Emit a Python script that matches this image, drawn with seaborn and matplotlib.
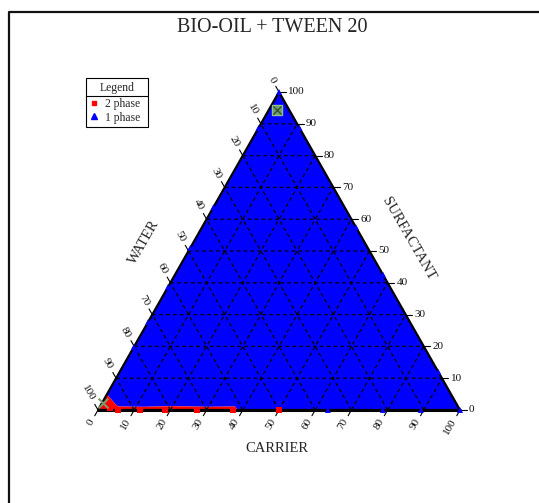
import numpy as np
import pandas as pd
import seaborn as sns
import matplotlib.pyplot as plt
from matplotlib.lines import Line2D

sns.set_theme(style="white")
plt.rcParams['font.family'] = ['Liberation Serif', 'DejaVu Serif']

# composiciones en % (carrier, surfactant); water = 100 - carrier - surfactant
# frontera entre la zona de 2 fases y la de 1 fase
bnd_c = [0.0, 0.6, 2.3, 3.8, 5.0, 12.0, 20.0, 30.0, 37.3, 38.7]
bnd_s = [5.3, 4.4, 3.1, 1.9, 1.1, 1.0, 1.2, 1.0, 1.1, 0.0]

# puntos medidos
two_c = [5.5, 11.6, 18.5, 27.3, 37.3, 50.0, 1.5, 3.0]
two_s = [0.0, 0.0, 0.0, 0.0, 0.0, 0.0, 1.5, 0.5]
one_c = [63.5, 78.7, 89.2, 100.0, 0.0, 0.0, 0.0, 0.0, 0.0, 0.0, 0.0, 42.5, 57.5, 88.0, 11.3]
one_s = [0.0, 0.0, 0.0, 0.0, 100.0, 88.7, 63.8, 51.0, 38.7, 27.7, 19.8, 57.5, 42.5, 12.0, 88.7]

# puntos de referencia (verde)
ref_c = [2.2, 0.3]
ref_s = [94.3, 2.2]

ticks = list(range(0, 101, 10))

title = "BIO-OIL + TWEEN 20"
h3 = np.sqrt(3) / 2


def tern(c, s):
    c = np.asarray(c, dtype=float)
    s = np.asarray(s, dtype=float)
    return c + s / 2, s * h3


fig = plt.figure(figsize=(5.39, 5.03), dpi=100)
ax = fig.add_axes([0, 0, 1, 1])
xl = (-98 / 3.62, (539 - 98) / 3.62)
yl = ((410 - 503) / 3.672, 410 / 3.672)
ax.set_axis_off()

# regiones de fase
x1, y1 = tern(bnd_c + [100, 0], bnd_s + [0, 100])
ax.fill(x1, y1, color='#0000FF', lw=0, zorder=1)
x2, y2 = tern([0] + bnd_c, [0] + bnd_s)
ax.fill(x2, y2, color='#FF0000', lw=0, zorder=2)

# rejilla
gs = dict(color='black', lw=0.9, ls=(0, (3, 2.5)), zorder=3, snap=False)
for k in ticks[1:-1]:
    gx, gy = tern([0, 100 - k], [k, k])
    ax.plot(gx, gy, **gs)
    gx, gy = tern([k, k], [0, 100 - k])
    ax.plot(gx, gy, **gs)
    gx, gy = tern([100 - k, 0], [0, 100 - k])
    ax.plot(gx, gy, **gs)

# bordes del triangulo
ex, ey = tern([0, 100, 0, 0], [0, 0, 100, 0])
ax.plot(ex, ey, color='black', lw=1.6, zorder=4, solid_joinstyle='miter')
bx_, by_ = tern([0, 100], [0, 0])
ax.plot(bx_, by_, color='black', lw=2.2, zorder=4)

# ticks y etiquetas
tl = 1.8
gap = 3.0
lab_kw = dict(fontsize=8, color='#111111')
for t in ticks:
    # carrier (abajo)
    bx, by = tern(t, 0)
    ax.plot([bx, bx - 0.5 * tl], [by, by - h3 * tl], color='black', lw=0.8)
    ax.text(bx - 0.5 * gap, by - h3 * gap, str(t), rotation=60,
            rotation_mode='anchor', ha='right', va='center', **lab_kw)
    # surfactant (derecha)
    rx, ry = tern(100 - t, t)
    ax.plot([rx, rx + tl], [ry, ry], color='black', lw=0.8)
    ax.text(rx + tl + 0.6, ry, str(t), ha='left', va='center', **lab_kw)
    # water (izquierda), 0 arriba
    lx, ly = tern(0, 100 - t)
    ax.plot([lx, lx - 0.5 * tl], [ly, ly + h3 * tl], color='black', lw=0.8)
    ax.text(lx - 0.5 * gap, ly + h3 * gap, str(t), rotation=-60,
            rotation_mode='anchor', ha='right', va='center', **lab_kw)

ax.text(49.4, -10.4, "CARRIER", ha='center', va='center', fontsize=10.5)
ax.text(12.6, 45.6, "WATER", rotation=60, ha='center', va='center', fontsize=10.5)
ax.text(85.8, 46.6, "SURFACTANT", rotation=-60, ha='center', va='center', fontsize=10.5)

# puntos
px2, py2 = tern(two_c, two_s)
px1, py1 = tern(one_c, one_s)
df = pd.DataFrame({
    'x': np.concatenate([px2, px1]),
    'y': np.concatenate([py2, py1]),
    'phase': ['2 phase'] * len(px2) + ['1 phase'] * len(px1),
})
sns.scatterplot(data=df, x='x', y='y', hue='phase', style='phase',
                palette={'2 phase': '#FF0000', '1 phase': '#0000FF'},
                markers={'2 phase': 's', '1 phase': '^'},
                s=18, linewidth=0, legend=False, ax=ax, zorder=5)

rx_, ry_ = tern(ref_c, ref_s)
ax.scatter(rx_[:1], ry_[:1], marker='s', s=45, facecolor='#6f9a6a', edgecolor='#8fc08a', lw=1, zorder=6)
ax.scatter(rx_[:1], ry_[:1], marker='x', s=35, color='#2f4f2f', lw=0.9, zorder=7)
ax.scatter(rx_[1:], ry_[1:], marker='x', s=50, color='#7a9a70', lw=1.5, zorder=7)
ax.set_xlim(*xl)
ax.set_ylim(*yl)

# leyenda
handles = [Line2D([], [], ls='none', marker='s', color='#FF0000', markersize=3),
           Line2D([], [], ls='none', marker='^', color='#0000FF', markersize=4.5)]
leg = ax.legend(handles, ['2 phase', '1 phase'], title='Legend',
                loc='upper left', mode='expand',
                bbox_to_anchor=(86 / 539, 1 - 125 / 503, 62 / 539, 47 / 503),
                bbox_transform=fig.transFigure, fancybox=False, framealpha=1,
                edgecolor='black', fontsize=8.4, title_fontsize=8.4,
                handlelength=0.8, handletextpad=0.5, borderpad=0.3,
                labelspacing=0.1, borderaxespad=0, markerfirst=True)
leg.get_frame().set_linewidth(0.8)
leg._legend_box.sep = 3.5
fig.canvas.draw()
lb = leg.get_window_extent()
tb = leg.get_title().get_window_extent()
t0 = leg.get_texts()[0].get_window_extent()
ysep = (tb.y0 + t0.y1) / 2
fig.add_artist(Line2D([lb.x0, lb.x1], [ysep, ysep], color='black', lw=0.8,
                      transform=None))

# titulo y marco
fig.text(272 / 539, 1 - 28 / 503, title, ha='center', va='center', fontsize=14.5)
fig.add_artist(Line2D([9 / 539, 9 / 539, 1], [0, 1 - 12 / 503, 1 - 12 / 503],
                      color='#111111', lw=1.6, transform=fig.transFigure))

fig.savefig('out.png', dpi=100, facecolor='white')
